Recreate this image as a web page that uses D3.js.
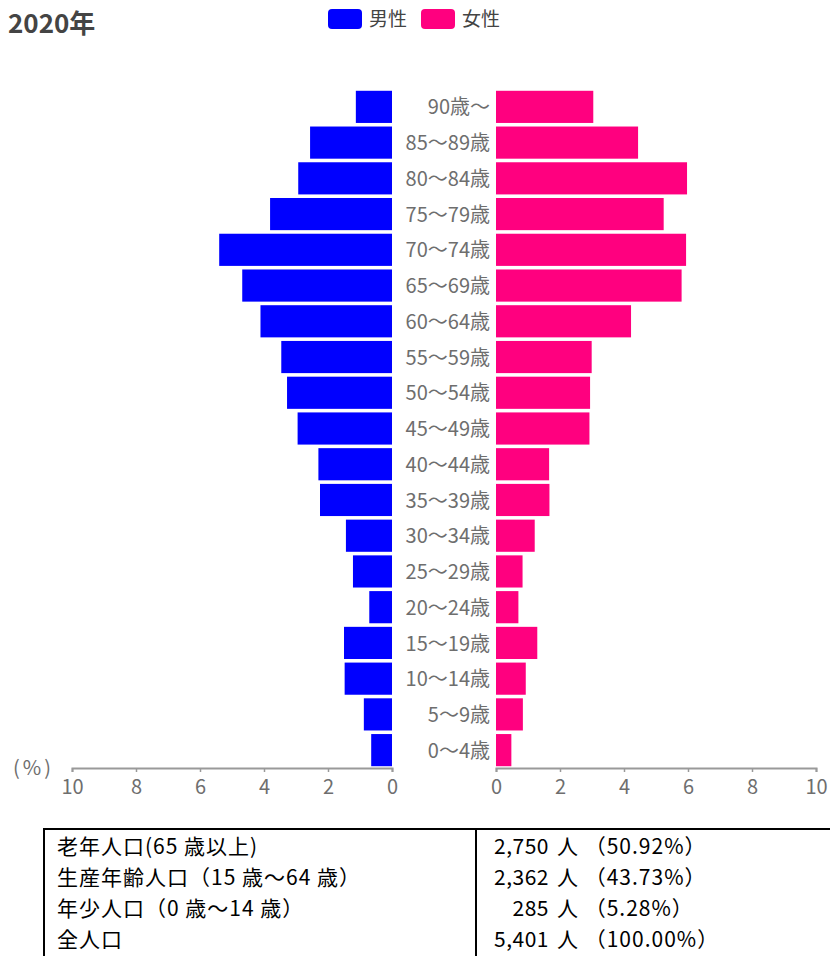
<!DOCTYPE html>
<html>
<head>
<meta charset="utf-8">
<script src="https://cdn.jsdelivr.net/npm/d3@7"></script>
<style>
  body { margin: 0; background: #fff; }
  svg { display: block; font-family: "Noto Sans CJK JP", "Noto Sans", sans-serif; }
</style>
</head>
<body>
<div id="viz"></div>
<script>
const width = 830, height = 956;

// data (percent of total population)
const ageGroups = ["90歳〜", "85〜89歳", "80〜84歳", "75〜79歳", "70〜74歳", "65〜69歳",
  "60〜64歳", "55〜59歳", "50〜54歳", "45〜49歳", "40〜44歳", "35〜39歳", "30〜34歳",
  "25〜29歳", "20〜24歳", "15〜19歳", "10〜14歳", "5〜9歳", "0〜4歳"];
const maleValues = [1.13, 2.56, 2.93, 3.81, 5.40, 4.68, 4.11, 3.46, 3.28, 2.95,
  2.30, 2.25, 1.44, 1.22, 0.71, 1.50, 1.48, 0.88, 0.65];
const femaleValues = [3.04, 4.44, 5.97, 5.24, 5.94, 5.80, 4.22, 2.99, 2.94, 2.92,
  1.66, 1.67, 1.21, 0.83, 0.70, 1.29, 0.93, 0.84, 0.48];
const tickValues = [0, 2, 4, 6, 8, 10];
const seriesNames = ["男性", "女性"];

const summaryLabels = ["老年人口(65 歳以上)", "生産年齢人口（15 歳〜64 歳）", "年少人口（0 歳〜14 歳）", "全人口"];
const summaryCounts = ["2,750", "2,362", "285", "5,401"];
const summaryPercents = ["（50.92%）", "（43.73%）", "（5.28%）", "（100.00%）"];

const maleColor = "#0000ff", femaleColor = "#ff007f";
const labelColor = "#6e6e6e";

const svg = d3.select("#viz").append("svg")
  .attr("width", width)
  .attr("height", height);

// title
svg.append("text")
  .attr("x", 8).attr("y", 33)
  .attr("font-size", 26).attr("font-weight", "bold")
  .attr("fill", "#444")
  .text("2020年");

// legend
const legendX = [328, 421];
[maleColor, femaleColor].forEach((c, i) => {
  const g = svg.append("g").attr("transform", `translate(${legendX[i]}, 9)`);
  g.append("rect").attr("width", 34).attr("height", 20).attr("rx", 4).attr("fill", c);
  g.append("text").attr("x", 41).attr("y", 17).attr("font-size", 19)
    .attr("fill", "#444").text(seriesNames[i]);
});

// scales
const y = d3.scaleBand()
  .domain(ageGroups)
  .range([89, 768])
  .paddingInner(0.1)
  .paddingOuter(0.05);

const xLeft = d3.scaleLinear().domain([0, 10]).range([392, 72]);
const xRight = d3.scaleLinear().domain([0, 10]).range([496, 816]);

// male bars
svg.append("g").selectAll("rect")
  .data(ageGroups)
  .join("rect")
  .attr("x", (d, i) => xLeft(maleValues[i]))
  .attr("y", d => y(d))
  .attr("width", (d, i) => xLeft(0) - xLeft(maleValues[i]))
  .attr("height", y.bandwidth())
  .attr("fill", maleColor);

// female bars
svg.append("g").selectAll("rect")
  .data(ageGroups)
  .join("rect")
  .attr("x", xRight(0))
  .attr("y", d => y(d))
  .attr("width", (d, i) => xRight(femaleValues[i]) - xRight(0))
  .attr("height", y.bandwidth())
  .attr("fill", femaleColor);

// age labels
svg.append("g").selectAll("text")
  .data(ageGroups)
  .join("text")
  .attr("x", 490)
  .attr("y", d => y(d) + y.bandwidth() / 2)
  .attr("dy", "0.38em")
  .attr("text-anchor", "end")
  .attr("font-size", 20)
  .attr("fill", labelColor)
  .text(d => d);

// axes
function styleAxis(g) {
  g.select(".domain").attr("stroke", "#999").attr("stroke-width", 2);
  g.selectAll(".tick line").attr("stroke", "#999").attr("stroke-width", 1.5);
  g.selectAll(".tick text").attr("fill", labelColor).attr("font-size", 20)
    .attr("font-family", "\"Noto Sans CJK JP\", sans-serif");
}
svg.append("g")
  .attr("transform", "translate(0, 768)")
  .call(d3.axisBottom(xLeft).tickValues(tickValues).tickSize(4).tickSizeOuter(4).tickPadding(8))
  .call(styleAxis);
svg.append("g")
  .attr("transform", "translate(0, 768)")
  .call(d3.axisBottom(xRight).tickValues(tickValues).tickSize(4).tickSizeOuter(4).tickPadding(8))
  .call(styleAxis);

svg.append("text")
  .attr("x", 13).attr("y", 775)
  .attr("font-size", 20).attr("letter-spacing", 3).attr("fill", labelColor)
  .text("(%)");

// summary table
const table = svg.append("g");
table.append("line").attr("x1", 44).attr("x2", 830).attr("y1", 829).attr("y2", 829);
table.append("line").attr("x1", 44).attr("x2", 44).attr("y1", 828).attr("y2", 956);
table.append("line").attr("x1", 476).attr("x2", 476).attr("y1", 828).attr("y2", 956);
table.selectAll("line").attr("stroke", "#000").attr("stroke-width", 2);

const rowY = d3.scalePoint().domain(summaryLabels).range([846, 939]);

table.selectAll("text.lab")
  .data(summaryLabels)
  .join("text")
  .attr("class", "lab")
  .attr("x", 57)
  .attr("y", d => rowY(d))
  .attr("dy", "0.36em")
  .attr("font-size", 21)
  .attr("letter-spacing", 1)
  .attr("fill", "#000")
  .text(d => d);

table.selectAll("text.cnt")
  .data(summaryLabels)
  .join("text")
  .attr("class", "cnt")
  .attr("x", 549)
  .attr("y", d => rowY(d))
  .attr("dy", "0.36em")
  .attr("text-anchor", "end")
  .attr("font-size", 21)
  .attr("letter-spacing", 0.5)
  .attr("fill", "#000")
  .text((d, i) => summaryCounts[i]);

table.selectAll("text.pct")
  .data(summaryLabels)
  .join("text")
  .attr("class", "pct")
  .attr("x", 557)
  .attr("y", d => rowY(d))
  .attr("dy", "0.36em")
  .attr("font-size", 21)
  .attr("letter-spacing", 1)
  .attr("fill", "#000")
  .text((d, i) => "人 " + summaryPercents[i]);
</script>
</body>
</html>
